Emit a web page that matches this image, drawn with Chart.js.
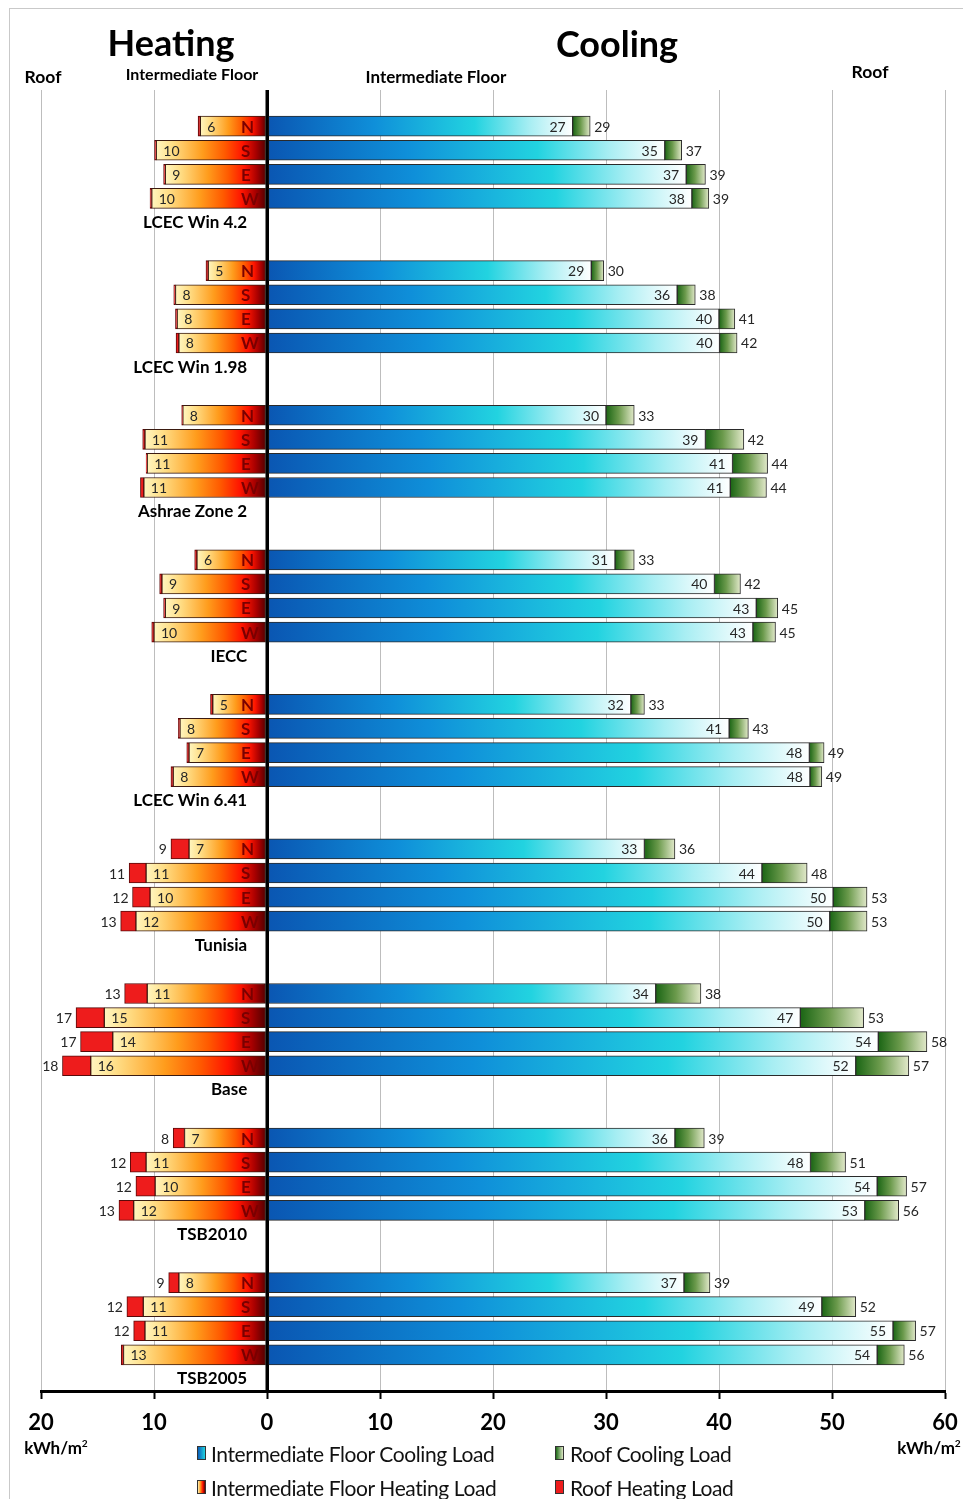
<!DOCTYPE html>
<html><head><meta charset="utf-8">
<script src="https://cdn.jsdelivr.net/npm/chart.js@4.4.1/dist/chart.umd.min.js"></script>
<style>
html,body{margin:0;padding:0;background:#fff;}
body{width:963px;height:1499px;position:relative;overflow:hidden;font-family:Lato,'Open Sans',sans-serif;}
#frame{position:absolute;left:9px;top:8px;width:1000px;height:1600px;border:1.5px solid #c9c9c9;box-sizing:border-box;}
#wrap{position:absolute;left:0;top:0;width:963px;height:1499px;}
.c{position:absolute;white-space:nowrap;color:#000;font-weight:bold;transform:translate(-50%,-50%);line-height:1;}
.lg{position:absolute;white-space:nowrap;color:#111;font-size:21px;line-height:1;transform:translateY(-50%);letter-spacing:-0.4px;}
.box{position:absolute;width:9px;height:14px;border:1px solid #333;transform:translateY(-50%);box-sizing:border-box;}
sup{font-size:0.6em;}
</style>
</head><body>
<div id="frame"></div>
<div id="wrap"><canvas id="chart"></canvas></div>
<div class="c" style="left:171px;top:42px;font-size:36px;">Heating</div>
<div class="c" style="left:617px;top:43px;font-size:36px;">Cooling</div>
<div class="c" style="left:43px;top:77px;font-size:17.5px;">Roof</div>
<div class="c" style="left:192px;top:74px;font-size:16px;">Intermediate Floor</div>
<div class="c" style="left:436px;top:76px;font-size:17px;">Intermediate Floor</div>
<div class="c" style="left:870px;top:72px;font-size:17.5px;">Roof</div>
<div class="c" style="left:56px;top:1447px;font-size:17px;">kWh/m<sup>2</sup></div>
<div class="c" style="left:929px;top:1447px;font-size:17px;">kWh/m<sup>2</sup></div>
<div class="box" style="left:197px;top:1453px;background:linear-gradient(to right,#0a5cb8,#22d3e0);"></div>
<div class="lg" style="left:211px;top:1453px;">Intermediate Floor Cooling Load</div>
<div class="box" style="left:555px;top:1453px;background:linear-gradient(to right,#1d6a17,#dde6c4);"></div>
<div class="lg" style="left:570px;top:1453px;">Roof Cooling Load</div>
<div class="box" style="left:197px;top:1487px;background:linear-gradient(to right,#fff4b8,#ff9a1e,#ff1500,#5a0000);"></div>
<div class="lg" style="left:211px;top:1487px;">Intermediate Floor Heating Load</div>
<div class="box" style="left:555px;top:1487px;background:#ee1c1c;"></div>
<div class="lg" style="left:570px;top:1487px;">Roof Heating Load</div>
<script>
// ---- data (order per group: N, S, E, W) ----
const groups = ['LCEC Win 4.2','LCEC Win 1.98','Ashrae Zone 2','IECC','LCEC Win 6.41','Tunisia','Base','TSB2010','TSB2005'];
const orientations = ['N','S','E','W'];
const coolFloor = [27.05,35.2,37.1,37.6, 28.7,36.3,40.0,40.05, 30.0,38.8,41.2,41.0, 30.8,39.6,43.3,43.0, 32.2,40.9,48.0,48.05, 33.4,43.8,50.1,49.8, 34.4,47.2,54.1,52.1, 36.1,48.1,54.0,52.9, 36.9,49.1,55.4,54.0];
const coolTotal = [28.6,36.7,38.8,39.1, 29.8,37.9,41.4,41.6, 32.5,42.2,44.3,44.2, 32.5,41.9,45.2,45.0, 33.4,42.6,49.3,49.1, 36.1,47.8,53.1,53.1, 38.4,52.8,58.4,56.8, 38.7,51.2,56.6,55.9, 39.2,52.1,57.4,56.4];
const heatFloor = [5.9,9.8,9.0,10.2, 5.2,8.1,7.95,7.8, 7.45,10.8,10.6,10.9, 6.2,9.3,9.0,10.0, 4.8,7.7,6.9,8.3, 6.9,10.7,10.35,11.6, 10.6,14.4,13.65,15.6, 7.3,10.7,9.9,11.8, 7.8,10.95,10.8,12.7];
const heatTotal = [6.1,9.95,9.15,10.35, 5.4,8.25,8.1,8.05, 7.55,11.0,10.7,11.2, 6.4,9.5,9.15,10.2, 5.0,7.85,7.1,8.5, 8.5,12.2,11.9,12.95, 12.6,16.9,16.5,18.1, 8.3,12.1,11.6,13.1, 8.7,12.4,11.8,12.9];
// printed value labels
const coolFloorLbl = [27,35,37,38, 29,36,40,40, 30,39,41,41, 31,40,43,43, 32,41,48,48, 33,44,50,50, 34,47,54,52, 36,48,54,53, 37,49,55,54];
const coolTotalLbl = [29,37,39,39, 30,38,41,42, 33,42,44,44, 33,42,45,45, 33,43,49,49, 36,48,53,53, 38,53,58,57, 39,51,57,56, 39,52,57,56];
const heatFloorLbl = [6,10,9,10, 5,8,8,8, 8,11,11,11, 6,9,9,10, 5,8,7,8, 7,11,10,12, 11,15,14,16, 7,11,10,12, 8,11,11,13];
const heatTotalLbl = [null,null,null,null, null,null,null,null, null,null,null,null, null,null,null,null, null,null,null,null, 9,11,12,13, 13,17,17,18, 8,12,12,13, 9,12,12,null];
const xTicks = [-20,-10,0,10,20,30,40,50,60];

// ---- build rows: per group [blank, N, S, E, W, label] ----
const rowLabels = [], rowIdx = [];
groups.forEach((g, gi) => {
  rowLabels.push(''); rowIdx.push(null);
  orientations.forEach((o, k) => { rowLabels.push(''); rowIdx.push(gi*4+k); });
  rowLabels.push(g); rowIdx.push(null);
});
const mk = f => rowIdx.map(j => j === null ? null : f(j));
const dCoolFloor = mk(j => coolFloor[j]);
const dCoolRoof = mk(j => +(coolTotal[j]-coolFloor[j]).toFixed(3));
const dHeatFloor = mk(j => -heatFloor[j]);
const dHeatRoof = mk(j => -(+(heatTotal[j]-heatFloor[j]).toFixed(3)));

function grad(c, a, b, stops, fallback) {
  const ch = c.chart, xs = ch.scales && ch.scales.x;
  if (!ch.chartArea || !xs || c.dataIndex === undefined) return fallback;
  const j = rowIdx[c.dataIndex];
  if (j === null) return fallback;
  const xa = xs.getPixelForValue(a(j)), xb = xs.getPixelForValue(b(j));
  const g = ch.ctx.createLinearGradient(xa, 0, xb, 0);
  stops.forEach(s => g.addColorStop(s[0], s[1]));
  return g;
}
const blueStops = [[0,'#0a56b2'],[0.35,'#0f8fd9'],[0.68,'#22d3e0'],[0.86,'#a8eef3'],[1,'#ffffff']];
const greenStops = [[0,'#1a6514'],[0.45,'#6b9a4c'],[1,'#e2e9ca']];
const heatStops = [[0,'#fff6c0'],[0.15,'#ffdd85'],[0.42,'#ff9c1c'],[0.62,'#ff5a00'],[0.78,'#ff1400'],[0.9,'#a80000'],[1,'#4a0000']];

const labelPlugin = {
  id: 'valueLabels',
  afterDatasetsDraw(chart) {
    const {ctx, scales: {x, y}, chartArea} = chart;
    ctx.save();
    // zero line
    const x0 = x.getPixelForValue(0);
    ctx.strokeStyle = '#000'; ctx.lineWidth = 3;
    ctx.beginPath(); ctx.moveTo(x0, chartArea.top); ctx.lineTo(x0, chartArea.bottom); ctx.stroke();
    ctx.textBaseline = 'middle';
    rowIdx.forEach((j, i) => {
      if (j === null) return;
      const yc = y.getPixelForValue(i) + 1;
      ctx.font = '14px Lato'; ctx.fillStyle = '#262626';
      ctx.textAlign = 'right';
      ctx.fillText(String(coolFloorLbl[j]), x.getPixelForValue(coolFloor[j]) - 7, yc);
      ctx.textAlign = 'left';
      ctx.fillText(String(coolTotalLbl[j]), x.getPixelForValue(coolTotal[j]) + 4, yc);
      ctx.fillText(String(heatFloorLbl[j]), x.getPixelForValue(-heatFloor[j]) + 7, yc);
      if (heatTotalLbl[j] !== null) {
        ctx.textAlign = 'right';
        ctx.fillText(String(heatTotalLbl[j]), x.getPixelForValue(-heatTotal[j]) - 4, yc);
      }
      ctx.font = 'bold 17px Lato'; ctx.fillStyle = '#7a0000'; ctx.textAlign = 'left';
      ctx.fillText(orientations[j % 4], x0 - 26, yc);
    });
    ctx.restore();
  }
};

new Chart(document.getElementById('chart'), {
  type: 'bar',
  data: {
    labels: rowLabels,
    datasets: [
      {label: 'Intermediate Floor Cooling Load', data: dCoolFloor,
       backgroundColor: c => grad(c, j => 0, j => coolFloor[j], blueStops, '#1a8fd8'), borderColor: '#2a2a2a'},
      {label: 'Roof Cooling Load', data: dCoolRoof,
       backgroundColor: c => grad(c, j => coolFloor[j], j => coolTotal[j], greenStops, '#5a8a3a'), borderColor: '#2a2a2a'},
      {label: 'Intermediate Floor Heating Load', data: dHeatFloor,
       backgroundColor: c => grad(c, j => -heatFloor[j], j => 0, heatStops, '#ff7a00'), borderColor: '#3a1a10'},
      {label: 'Roof Heating Load', data: dHeatRoof,
       backgroundColor: '#ee1c1c', borderColor: '#5a0a0a'}
    ]
  },
  options: {
    indexAxis: 'y',
    responsive: true,
    maintainAspectRatio: false,
    animation: false,
    events: [],
    datasets: {bar: {barThickness: 20, borderWidth: 1, borderSkipped: false}},
    layout: {padding: {left: 41, right: 18, top: 90, bottom: 58}},
    plugins: {legend: {display: false}, tooltip: {enabled: false}},
    scales: {
      x: {
        type: 'linear', stacked: true, min: -20, max: 60,
        afterFit: s => { s.height = 50; s.paddingLeft = 0; s.paddingRight = 0; },
        afterBuildTicks: s => { s.ticks = xTicks.map(v => ({value: v})); },
        ticks: {callback: v => String(Math.abs(v)), font: {family: 'Lato', weight: 'bold', size: 22}, color: '#000', padding: 11, maxRotation: 0},
        grid: {color: c => c.tick && c.tick.value === 0 ? '#000' : '#bdbdbd', lineWidth: c => c.tick && c.tick.value === 0 ? 3 : 1,
               tickColor: '#000', tickWidth: 2, tickLength: 8},
        border: {color: '#000', width: 3}
      },
      y: {
        type: 'category', stacked: true, position: {x: -1.75},
        grid: {display: false}, border: {display: false},
        ticks: {autoSkip: false, font: {family: 'Lato', weight: 'bold', size: 17}, color: '#000', padding: 0}
      }
    }
  },
  plugins: [labelPlugin]
});
</script>
</body></html>
